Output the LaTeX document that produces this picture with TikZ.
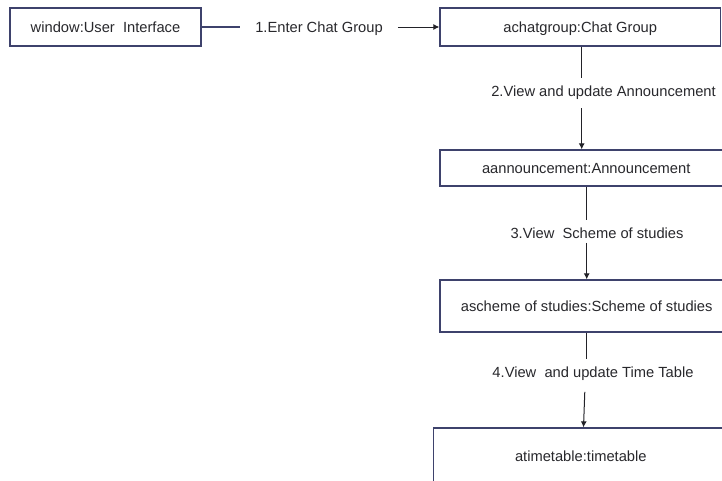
\documentclass[tikz,border=0pt]{standalone}
\usepackage{fontspec}
\setmainfont{Liberation Sans}
\usetikzlibrary{arrows.meta}

\definecolor{boxline}{RGB}{62,66,108}
\definecolor{linkline}{RGB}{34,34,40}
\definecolor{textcol}{RGB}{40,40,44}

\tikzset{
  objbox/.style={draw=boxline, line width=1.3pt, rectangle, inner sep=0pt,
    text=textcol, text height=10.5pt, text depth=0pt,
    font=\fontsize{14.7}{17}\selectfont},
  msg/.style={inner xsep=15pt, inner ysep=8pt, text=textcol,
    text height=10.5pt, text depth=0pt, font=\fontsize{14.7}{17}\selectfont},
  link/.style={draw=linkline, line width=1pt},
  firstlink/.style={draw=boxline, line width=1.2pt},
  call/.style={link, -{Latex[length=6pt,width=6pt]}}
}

\begin{document}
\begin{tikzpicture}[x=1pt,y=-1pt]
  \clip (0,0) rectangle (722,480);
  \fill[white] (0,0) rectangle (722,480);

  % objects
  \node[objbox, minimum width=191pt, minimum height=38pt] (ui) at (105.5,27) {window:User\ \ Interface};
  \node[objbox, minimum width=280.5pt, minimum height=38pt] (chat) at (580.25,27) {achatgroup:Chat Group};
  \node[objbox, minimum width=292.4pt, minimum height=36pt] (ann) at (586.2,168) {aannouncement:Announcement};
  \node[objbox, minimum width=293.4pt, minimum height=52pt] (sos) at (586.7,306) {ascheme of studies:Scheme of studies};
  \node[objbox, minimum width=295pt, minimum height=56pt] (tt) at (580.8,456) {atimetable:timetable};

  % messages
  \node[msg] (m1) at (319,27) {1.Enter Chat Group};
  \node[msg] (m2) at (603.5,91.3) {2.View and update Announcement};
  \node[msg] (m3) at (597,233.5) {3.View\ \ Scheme of studies};
  \node[msg] (m4) at (593,372.5) {4.View\ \ and update Time Table};

  % columns of the vertical links
  \coordinate (x2) at (581.7,0);
  \coordinate (x3) at (586.7,0);
  \coordinate (x4) at (585,0);
  \coordinate (x4b) at (583.5,0);

  % links
  \draw[firstlink] (ui) -- (m1);
  \draw[call] (m1) -- (chat);

  \draw[link] (chat.south -| x2) -- (m2.north -| x2);
  \draw[call, shorten <=3.5pt] (m2.south -| x2) -- (ann.north -| x2);

  \draw[link] (ann.south -| x3) -- (m3.north -| x3);
  \draw[call, shorten <=-4pt] (m3.south -| x3) -- (sos.north -| x3);

  \draw[link] (sos.south -| x3) -- (m4.north -| x3);
  \draw[call, shorten <=6pt] (m4.south -| x4) -- (tt.north -| x4b);
\end{tikzpicture}
\end{document}
